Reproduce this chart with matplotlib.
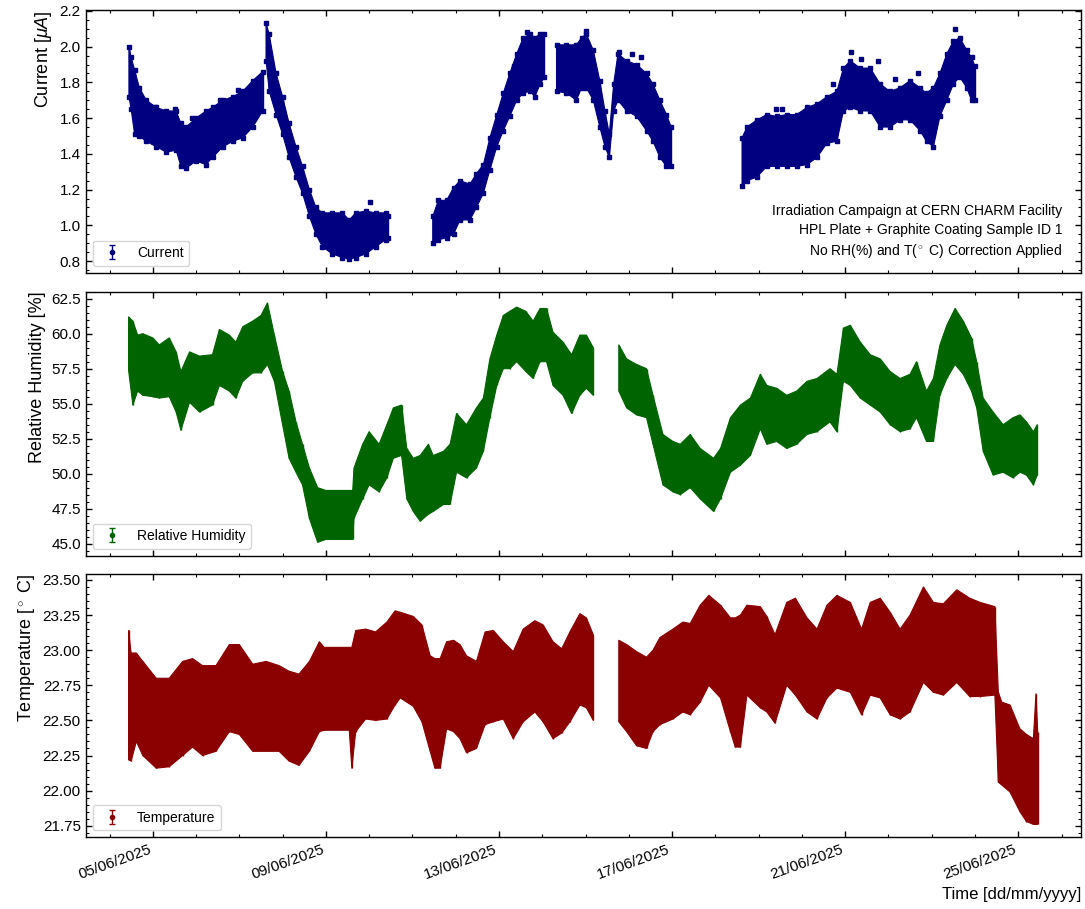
import numpy as np
import matplotlib.pyplot as plt
import matplotlib.dates as mdates
from matplotlib.ticker import MultipleLocator, AutoMinorLocator, FixedLocator
import datetime as dt

plt.rcParams['font.family'] = ['Liberation Sans', 'DejaVu Sans']
plt.rcParams['mathtext.fontset'] = 'custom'
plt.rcParams['mathtext.rm'] = 'Liberation Sans'
plt.rcParams['mathtext.it'] = 'Liberation Sans:italic'
plt.rcParams['axes.linewidth'] = 1.0

nan = np.nan
t0 = dt.datetime(2025, 6, 5)

# current band: days since 05/06/2025 00:00, lower and upper edge [uA]
cur_days = [-0.55, -0.50, -0.42, -0.31, -0.15, 0.08, 0.31, 0.54, 0.65, 0.77, 1.00, 1.23, 1.38, 1.62, 1.85, 2.08, 2.31, 2.54, nan,
            2.62, 2.69, 2.85, 3.00, 3.15, 3.31, 3.46, 3.62, 3.77, 3.92, 4.15, 4.38, 4.54, 4.69, 4.92, 5.15, 5.38, 5.44, nan,
            6.47, 6.60, 6.79, 6.95, 7.10, 7.33, 7.48, 7.64, 7.79, 7.95, 8.10, 8.25, 8.41, 8.56, 8.72, 8.83, 8.95, 9.05, nan,
            9.33, 9.56, 9.79, 9.91, 10.02, 10.18, 10.33, 10.45, 10.55, 10.65, 10.75, 10.95, 11.18, 11.41, 11.56, 11.72, 11.87, 11.98, nan,
            13.62, 13.73, 13.96, 14.19, 14.42, 14.65, 14.88, 15.12, 15.35, 15.58, 15.81, 15.96, 16.12, 16.35, 16.58, 16.81, 17.04,
            17.27, 17.50, 17.73, 17.88, 18.04, 18.19, 18.35, 18.50, 18.65, 18.81, 18.92, 19.00]
cur_lo = [1.72, 1.65, 1.51, 1.50, 1.47, 1.44, 1.41, 1.42, 1.33, 1.32, 1.36, 1.34, 1.38, 1.44, 1.47, 1.49, 1.55, 1.64, nan,
          1.92, 1.75, 1.62, 1.51, 1.38, 1.27, 1.18, 1.05, 0.95, 0.88, 0.84, 0.82, 0.81, 0.82, 0.84, 0.88, 0.92, 0.93, nan,
          0.90, 0.92, 0.93, 0.95, 1.03, 1.03, 1.10, 1.18, 1.31, 1.44, 1.53, 1.61, 1.70, 1.74, 1.75, 1.72, 1.79, 1.83, nan,
          1.75, 1.74, 1.70, 1.77, 1.77, 1.70, 1.55, 1.44, 1.38, 1.64, 1.70, 1.64, 1.61, 1.53, 1.47, 1.38, 1.33, 1.33, nan,
          1.22, 1.25, 1.27, 1.33, 1.33, 1.33, 1.33, 1.34, 1.38, 1.46, 1.47, 1.64, 1.66, 1.64, 1.64, 1.55, 1.55,
          1.59, 1.59, 1.53, 1.47, 1.44, 1.61, 1.70, 1.79, 1.83, 1.77, 1.70, 1.70]
cur_hi = [2.00, 1.94, 1.87, 1.77, 1.70, 1.66, 1.64, 1.64, 1.57, 1.55, 1.60, 1.64, 1.66, 1.70, 1.72, 1.75, 1.81, 1.86, nan,
          2.13, 2.07, 1.85, 1.72, 1.57, 1.44, 1.33, 1.20, 1.10, 1.07, 1.07, 1.07, 1.03, 1.07, 1.08, 1.07, 1.07, 1.05, nan,
          1.05, 1.14, 1.14, 1.21, 1.25, 1.23, 1.29, 1.34, 1.49, 1.62, 1.74, 1.85, 1.96, 2.05, 2.07, 2.05, 2.07, 2.07, nan,
          2.01, 2.01, 2.01, 2.05, 2.07, 1.98, 1.81, 1.64, 1.51, 1.79, 1.96, 1.92, 1.90, 1.85, 1.79, 1.70, 1.62, 1.55, nan,
          1.49, 1.55, 1.59, 1.62, 1.61, 1.62, 1.62, 1.66, 1.68, 1.72, 1.75, 1.88, 1.92, 1.88, 1.88, 1.79, 1.75,
          1.77, 1.81, 1.77, 1.74, 1.77, 1.85, 1.96, 2.03, 2.05, 1.98, 1.94, 1.89]
# isolated current readings above the band
cur_spike_days = [0.05, 0.52, 0.91, 1.55, 1.98, 5.02, 8.35, 8.64, 10.00, 10.78, 11.08, 11.29,
                  14.40, 14.54, 15.72, 16.14, 16.37, 16.76, 17.15, 17.68, 18.55]
cur_spike_val = [1.66, 1.65, 1.60, 1.70, 1.76, 1.13, 1.89, 2.08, 2.09, 1.97, 1.96, 1.94,
                 1.65, 1.65, 1.79, 1.97, 1.93, 1.92, 1.82, 1.85, 2.10]

# relative humidity band [%]
rh_days = [-0.56, -0.46, -0.35, -0.23, 0.00, 0.15, 0.38, 0.54, 0.65, 0.85, 1.08, 1.38, 1.54, 1.77, 1.92, 2.08, 2.31, 2.50,
           2.65, 2.81, 3.00, 3.15, 3.31, 3.46, 3.62, 3.81, 4.00, 4.62, 4.65, 4.85, 5.00, 5.23, 5.41, 5.56, 5.75, 5.87,
           6.02, 6.18, 6.37, 6.48, 6.72, 6.87, 7.02, 7.25, 7.48, 7.64, 7.79, 7.95, 8.10, 8.25, 8.41, 8.62, 8.79, 8.95,
           9.10, 9.25, 9.48, 9.68, 9.87, 10.02, 10.18, nan,
           10.77, 10.95, 11.18, 11.41, 11.56, 11.79, 12.02, 12.19, 12.42, 12.65, 12.96, 13.12, 13.35, 13.58, 13.81,
           14.04, 14.19, 14.42, 14.65, 14.88, 15.12, 15.35, 15.65, 15.81, 15.96, 16.12, 16.35, 16.58, 16.81, 17.04,
           17.27, 17.50, 17.65, 17.88, 18.04, 18.19, 18.35, 18.54, 18.73, 18.92, 19.04, 19.19, 19.42, 19.65, 19.88,
           20.04, 20.19, 20.35, 20.44]
rh_lo = [57.4, 54.9, 55.9, 55.6, 55.5, 55.4, 55.5, 54.4, 53.1, 55.1, 54.4, 54.9, 56.3, 55.9, 55.4, 56.6, 57.2, 57.2,
         57.8, 56.6, 53.5, 51.1, 50.1, 49.2, 46.8, 45.1, 45.3, 45.3, 46.8, 48.2, 49.2, 48.7, 49.7, 51.1, 51.3, 48.2,
         47.3, 46.6, 47.1, 47.3, 47.8, 47.8, 50.1, 49.7, 50.4, 51.6, 54.0, 56.3, 57.5, 57.5, 58.0, 57.3, 56.8, 58.0,
         58.0, 56.3, 55.6, 54.3, 55.6, 56.1, 55.6, nan,
         55.9, 54.7, 54.2, 54.0, 52.1, 49.2, 48.7, 48.5, 49.0, 48.2, 47.3, 48.2, 50.1, 50.6, 51.3,
         53.2, 52.1, 52.3, 51.8, 52.1, 52.8, 53.0, 53.7, 53.0, 56.6, 56.3, 55.4, 54.9, 54.4, 53.5,
         53.0, 53.2, 54.0, 52.3, 52.3, 55.6, 56.8, 57.8, 57.1, 55.9, 54.7, 51.6, 49.9, 50.1, 49.7,
         50.1, 49.9, 49.2, 49.9]
rh_hi = [61.2, 60.9, 59.9, 60.0, 59.7, 59.2, 59.7, 58.7, 57.3, 58.7, 58.4, 58.5, 60.3, 59.9, 59.4, 60.5, 60.9, 61.3,
         62.2, 59.9, 57.3, 55.9, 53.7, 52.1, 50.4, 49.0, 48.8, 48.8, 50.4, 52.1, 53.0, 52.1, 53.5, 54.7, 54.9, 51.8,
         51.1, 51.3, 52.1, 51.3, 51.6, 52.1, 54.3, 53.5, 54.7, 55.4, 58.2, 59.9, 61.3, 61.6, 61.9, 61.6, 60.9, 61.8,
         61.8, 60.1, 59.4, 58.5, 59.9, 59.9, 59.0, nan,
         59.2, 58.2, 57.8, 57.5, 55.6, 52.8, 52.3, 52.1, 52.8, 51.8, 51.1, 51.8, 54.0, 54.9, 55.4,
         57.1, 56.3, 56.1, 55.6, 55.9, 56.6, 56.8, 57.5, 57.1, 60.4, 60.6, 59.4, 58.5, 58.2, 57.3,
         56.8, 57.1, 58.0, 55.9, 56.8, 59.2, 60.6, 61.8, 60.9, 59.7, 58.0, 55.4, 54.4, 53.5, 54.0,
         54.2, 53.7, 53.0, 53.5]

# temperature band [degC]
temp_days = [-0.56, -0.50, -0.38, -0.23, 0.08, 0.38, 0.69, 0.92, 1.15, 1.46, 1.77, 2.00, 2.31, 2.62, 2.92, 3.15, 3.38,
             3.62, 3.85, 3.96, 4.54, 4.60, 4.69, 4.92, 5.15, 5.41, 5.60, 5.72, 6.02, 6.22, 6.41, 6.52, 6.64, 6.79,
             6.95, 7.10, 7.25, 7.48, 7.68, 7.87, 8.10, 8.33, 8.56, 8.83, 9.02, 9.25, 9.45, 9.64, 9.87, 10.02, 10.18, nan,
             10.77, 10.95, 11.18, 11.41, 11.56, 11.72, 12.02, 12.25, 12.42, 12.65, 12.85, 13.12, 13.35, 13.46, 13.58,
             13.73, 14.04, 14.19, 14.38, 14.65, 14.85, 15.12, 15.35, 15.58, 15.81, 16.12, 16.38, 16.58, 16.81, 17.04,
             17.27, 17.50, 17.81, 18.04, 18.27, 18.58, 18.88, 19.12, 19.46, 19.54, 19.62, 19.81, 20.04, 20.19, 20.35,
             20.41, 20.45]
temp_lo = [22.22, 22.21, 22.35, 22.25, 22.16, 22.17, 22.25, 22.31, 22.25, 22.28, 22.42, 22.40, 22.28, 22.28, 22.28, 22.21, 22.18,
           22.28, 22.42, 22.43, 22.43, 22.16, 22.42, 22.51, 22.50, 22.51, 22.61, 22.66, 22.60, 22.49, 22.28, 22.16, 22.16, 22.44,
           22.42, 22.37, 22.27, 22.30, 22.47, 22.49, 22.51, 22.37, 22.49, 22.56, 22.49, 22.37, 22.41, 22.49, 22.61, 22.59, 22.50, nan,
           22.49, 22.42, 22.32, 22.30, 22.42, 22.47, 22.51, 22.56, 22.54, 22.63, 22.75, 22.66, 22.42, 22.31, 22.31,
           22.68, 22.59, 22.56, 22.48, 22.75, 22.68, 22.56, 22.51, 22.66, 22.73, 22.70, 22.54, 22.68, 22.66, 22.54,
           22.51, 22.56, 22.77, 22.70, 22.68, 22.77, 22.67, 22.67, 22.68, 22.06, 22.04, 21.99, 21.85, 21.78, 21.76,
           21.76, 21.76]
temp_hi = [23.14, 22.98, 22.98, 22.92, 22.80, 22.80, 22.92, 22.94, 22.89, 22.89, 23.04, 23.04, 22.90, 22.92, 22.89, 22.85, 22.83,
           22.92, 23.06, 23.02, 23.02, 23.02, 23.14, 23.15, 23.13, 23.20, 23.28, 23.27, 23.24, 23.18, 22.96, 22.94, 22.94, 23.06,
           23.07, 23.04, 22.96, 22.92, 23.13, 23.14, 23.06, 22.99, 23.15, 23.21, 23.18, 23.06, 23.01, 23.13, 23.26, 23.23, 23.11, nan,
           23.07, 23.04, 22.99, 22.95, 23.00, 23.09, 23.15, 23.20, 23.19, 23.32, 23.39, 23.32, 23.23, 23.23, 23.25,
           23.32, 23.31, 23.24, 23.11, 23.34, 23.37, 23.23, 23.15, 23.32, 23.39, 23.34, 23.15, 23.34, 23.37, 23.27,
           23.15, 23.25, 23.45, 23.34, 23.33, 23.43, 23.37, 23.34, 23.31, 22.70, 22.63, 22.61, 22.44, 22.40, 22.37,
           22.69, 22.42]


def to_num(days):
    return mdates.date2num(t0) + np.asarray(days, dtype=float)


def draw_band(ax, days, lo, hi, color, label, edge_marker=None):
    x = to_num(days)
    lo = np.asarray(lo, dtype=float)
    hi = np.asarray(hi, dtype=float)
    ax.fill_between(x, lo, hi, color=color, lw=0.8, edgecolor=color)
    ax.errorbar(x, (lo + hi) / 2, yerr=(hi - lo) / 2, fmt='none', elinewidth=1, color=color)
    if edge_marker:
        ax.plot(x, lo, edge_marker, ms=3.5, color=color)
        ax.plot(x, hi, edge_marker, ms=3.5, color=color)
    # legend entry in the errorbar style
    ax.errorbar([nan], [nan], yerr=[nan], fmt='o', ms=3, capsize=2,
                elinewidth=1, color=color, label=label)


fig = plt.figure(figsize=(10.85, 9.09), dpi=100)
left, width = 0.079, 0.9173
ax1 = fig.add_axes([left, 0.7000, width, 0.2890])
ax2 = fig.add_axes([left, 0.3887, width, 0.2904])
ax3 = fig.add_axes([left, 0.0789, width, 0.2893])

draw_band(ax1, cur_days, cur_lo, cur_hi, '#000080', 'Current', edge_marker='s')
ax1.plot(to_num(cur_spike_days), cur_spike_val, 's', ms=3.5, color='#000080')
draw_band(ax2, rh_days, rh_lo, rh_hi, '#006400', 'Relative Humidity')
draw_band(ax3, temp_days, temp_lo, temp_hi, '#8b0000', 'Temperature')

ax1.set_ylabel(r'Current [$\mu A$]', fontsize=13, loc='top')
ax2.set_ylabel('Relative Humidity [%]', fontsize=13, loc='top')
ax3.set_ylabel(r'Temperature [$^\circ$ C]', fontsize=13, loc='top')

ax1.set_ylim(0.735, 2.205)
ax2.set_ylim(44.14, 63.0)
ax3.set_ylim(21.668, 23.54)
ax1.yaxis.set_major_locator(MultipleLocator(0.2))
ax2.yaxis.set_major_locator(MultipleLocator(2.5))
ax3.yaxis.set_major_locator(MultipleLocator(0.25))
ax3.yaxis.set_major_formatter(plt.FormatStrFormatter('%.2f'))
ax2.yaxis.set_major_formatter(plt.FormatStrFormatter('%.1f'))

major_days = [0, 4, 8, 12, 16, 20]
for ax in (ax1, ax2, ax3):
    ax.set_xlim(to_num([-1.55])[0], to_num([21.45])[0])
    ax.xaxis.set_major_locator(FixedLocator(to_num(major_days)))
    ax.xaxis.set_minor_locator(mdates.DayLocator())
    ax.xaxis.set_major_formatter(mdates.DateFormatter('%d/%m/%Y'))
    ax.yaxis.set_minor_locator(AutoMinorLocator())
    ax.tick_params(which='both', direction='in', top=True, right=True, labelsize=11)
    ax.tick_params(which='major', length=4, width=1)
    ax.tick_params(which='minor', length=2, width=0.8)
    ax.legend(loc='lower left', fontsize=10)

ax1.tick_params(labelbottom=False)
ax2.tick_params(labelbottom=False)
for lab in ax3.get_xticklabels():
    lab.set_rotation(20)
    lab.set_ha('right')
ax3.set_xlabel('Time [dd/mm/yyyy]', fontsize=12, loc='right')

ax1.text(0.981, 0.155,
         'Irradiation Campaign at CERN CHARM Facility\n'
         'HPL Plate + Graphite Coating Sample ID 1\n'
         r'No RH(%) and T($^\circ$ C) Correction Applied',
         transform=ax1.transAxes, ha='right', va='center', fontsize=10,
         linespacing=1.4, multialignment='right')

fig.savefig('out.png', dpi=100)
